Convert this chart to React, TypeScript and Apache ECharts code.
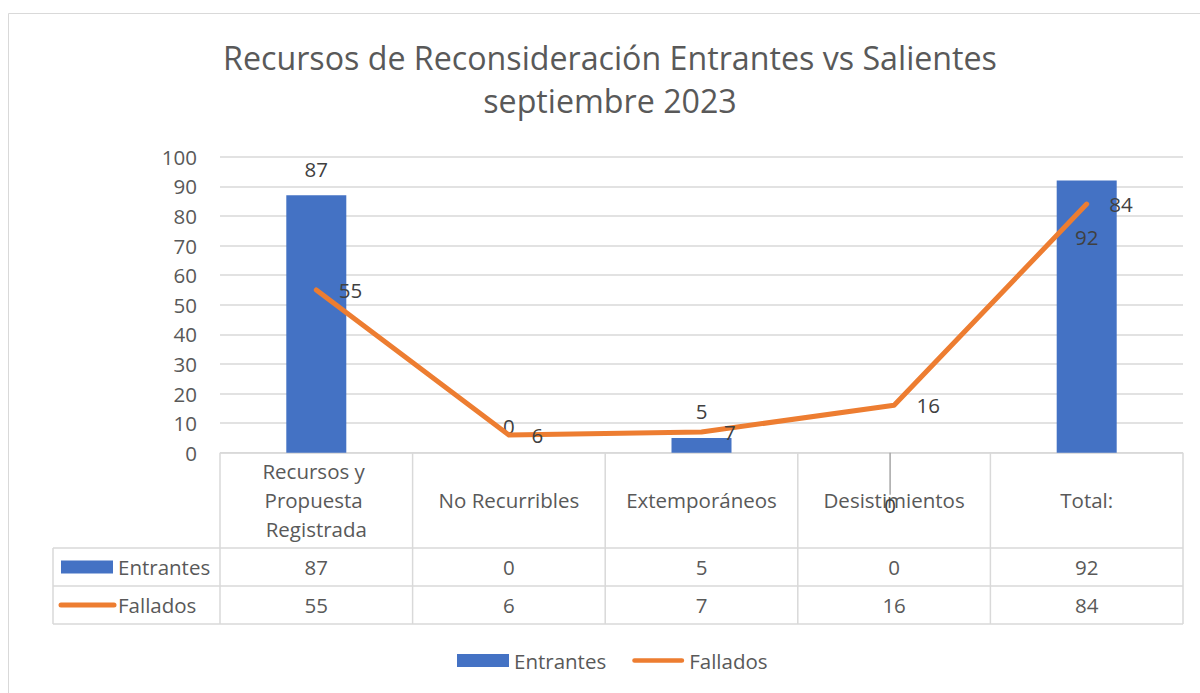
import React, { useEffect, useRef } from 'react';
import * as echarts from 'echarts';

const TITLE_LINES = ['Recursos de Reconsideración Entrantes vs Salientes', 'septiembre 2023'];
const CATEGORIES = ['Recursos y Propuesta Registrada', 'No Recurribles', 'Extemporáneos', 'Desistimientos', 'Total:'];
const SERIES_NAMES = ['Entrantes', 'Fallados'];
const ENTRANTES = [87, 0, 5, 0, 92];
const FALLADOS = [55, 6, 7, 16, 84];
const Y_MIN = 0;
const Y_MAX = 100;
const Y_INTERVAL = 10;

// manual label displacement (dx, dy) for the bar labels, as in the reference
const BAR_LABEL_SHIFT = [[0, 0], [0, 0], [0, 0], [-4, 79], [0, 83]];

const FONT = '"Open Sans", sans-serif';
const FS = 20.5;
const BLUE = '#4472C4';
const ORANGE = '#ED7D31';
const LINE_COLOR = '#D9D9D9';
const TEXT = '#595959';
const LABEL = '#404040';

const G_LEFT = 220;
const G_RIGHT = 1183;
const G_TOP = 156.7;
const G_BOTTOM = 452.7;
const HEADER_BOTTOM = 548;
const ROW1_BOTTOM = 586;
const ROW2_BOTTOM = 624;
const TABLE_LEFT = 53;

const LINE_ICON = 'path://M2.5,0 H53.5 A2.5,2.5 0 0 1 53.5,5 H2.5 A2.5,2.5 0 0 1 2.5,0 Z';

function buildGraphic() {
  const els: any[] = [];
  const cellW = (G_RIGHT - G_LEFT) / CATEGORIES.length;
  const stroke = { stroke: LINE_COLOR, lineWidth: 1.5 };
  const hl = (y: number, x1: number, x2: number) =>
    els.push({ type: 'line', silent: true, shape: { x1, y1: y, x2, y2: y }, style: stroke });
  const vl = (x: number, y1: number, y2: number) =>
    els.push({ type: 'line', silent: true, shape: { x1: x, y1, x2: x, y2 }, style: stroke });

  // outer chart border
  els.push({
    type: 'rect', silent: true,
    shape: { x: 8.5, y: 13.5, width: 1200, height: 700 },
    style: { fill: 'none', stroke: LINE_COLOR, lineWidth: 1 },
  });

  // title
  els.push({
    type: 'text', silent: true, x: 610, y: 79,
    style: {
      text: TITLE_LINES.join('\n'), fill: TEXT, fontSize: 32.2, fontFamily: FONT,
      lineHeight: 43, align: 'center', verticalAlign: 'middle',
    },
  });

  // data table grid
  hl(G_BOTTOM, G_LEFT, G_RIGHT);
  hl(HEADER_BOTTOM, TABLE_LEFT, G_RIGHT);
  hl(ROW1_BOTTOM, TABLE_LEFT, G_RIGHT);
  hl(ROW2_BOTTOM, TABLE_LEFT, G_RIGHT);
  vl(TABLE_LEFT, HEADER_BOTTOM, ROW2_BOTTOM);
  for (let i = 0; i <= CATEGORIES.length; i++) vl(G_LEFT + i * cellW, G_BOTTOM, ROW2_BOTTOM);

  const rows = [
    { name: SERIES_NAMES[0], values: ENTRANTES, top: HEADER_BOTTOM, bottom: ROW1_BOTTOM },
    { name: SERIES_NAMES[1], values: FALLADOS, top: ROW1_BOTTOM, bottom: ROW2_BOTTOM },
  ];
  rows.forEach((row, r) => {
    const cy = (row.top + row.bottom) / 2;
    if (r === 0) {
      els.push({ type: 'rect', silent: true, shape: { x: 61, y: cy - 6.5, width: 52, height: 13 }, style: { fill: BLUE } });
    } else {
      els.push({
        type: 'line', silent: true, shape: { x1: 61, y1: cy, x2: 114, y2: cy },
        style: { stroke: ORANGE, lineWidth: 5, lineCap: 'round' },
      });
    }
    els.push({
      type: 'text', silent: true, x: 118, y: cy,
      style: { text: row.name, fill: TEXT, fontSize: FS, fontFamily: FONT, align: 'left', verticalAlign: 'middle' },
    });
    row.values.forEach((v, i) => {
      els.push({
        type: 'text', silent: true, x: G_LEFT + (i + 0.5) * cellW, y: cy,
        style: { text: String(v), fill: TEXT, fontSize: FS, fontFamily: FONT, align: 'center', verticalAlign: 'middle' },
      });
    });
  });
  return els;
}

export default function App() {
  const ref = useRef<HTMLDivElement>(null);
  useEffect(() => {
    if (!ref.current) return;
    const chart = echarts.init(ref.current, null, { renderer: 'svg' });
    chart.setOption({
      animation: false,
      backgroundColor: '#fff',
      textStyle: { fontFamily: FONT },
      grid: { left: G_LEFT, top: G_TOP, width: G_RIGHT - G_LEFT, height: G_BOTTOM - G_TOP, containLabel: false },
      legend: {
        left: 457, top: 650, padding: 0, itemGap: 26, itemWidth: 52, itemHeight: 13,
        textStyle: { color: TEXT, fontSize: FS, fontFamily: FONT },
        data: [
          { name: SERIES_NAMES[0], icon: 'rect' },
          { name: SERIES_NAMES[1], icon: LINE_ICON },
        ],
      },
      xAxis: {
        type: 'category',
        data: CATEGORIES,
        axisLine: { show: false },
        axisTick: { show: false },
        axisLabel: {
          interval: 0, margin: 47.5, color: TEXT, fontSize: FS, fontFamily: FONT,
          lineHeight: 29, width: 170, overflow: 'break', verticalAlign: 'middle', align: 'center',
        },
      },
      yAxis: {
        type: 'value', min: Y_MIN, max: Y_MAX, interval: Y_INTERVAL,
        axisLine: { show: false }, axisTick: { show: false },
        axisLabel: { color: TEXT, fontSize: FS, fontFamily: FONT, margin: 23 },
        splitLine: { lineStyle: { color: LINE_COLOR, width: 1.5 } },
      },
      series: [
        {
          name: SERIES_NAMES[0], type: 'bar', barWidth: 60, z: 2,
          itemStyle: { color: BLUE },
          label: { show: true, position: 'top', distance: 16, color: LABEL, fontSize: FS, fontFamily: FONT },
          labelLine: { show: true, lineStyle: { color: '#A6A6A6', width: 1.5 } },
          labelLayout: (p: any) => {
            const s = BAR_LABEL_SHIFT[p.dataIndex];
            return { dx: s[0], dy: s[1] };
          },
          data: ENTRANTES.map((v, i) => ({
            value: v,
            labelLine: { show: BAR_LABEL_SHIFT[i][1] !== 0 && v === 0 },
          })),
        },
        {
          name: SERIES_NAMES[1], type: 'line', symbol: 'circle', symbolSize: 1, showSymbol: true, z: 3,
          lineStyle: { color: ORANGE, width: 5, cap: 'round', join: 'round' },
          itemStyle: { color: ORANGE },
          label: { show: true, position: 'right', distance: 22, color: LABEL, fontSize: FS, fontFamily: FONT },
          data: FALLADOS,
        },
      ],
      graphic: buildGraphic(),
    });
    return () => chart.dispose();
  }, []);
  return <div ref={ref} style={{ position: 'absolute', left: 0, top: 0, width: 1200, height: 693 }} />;
}
